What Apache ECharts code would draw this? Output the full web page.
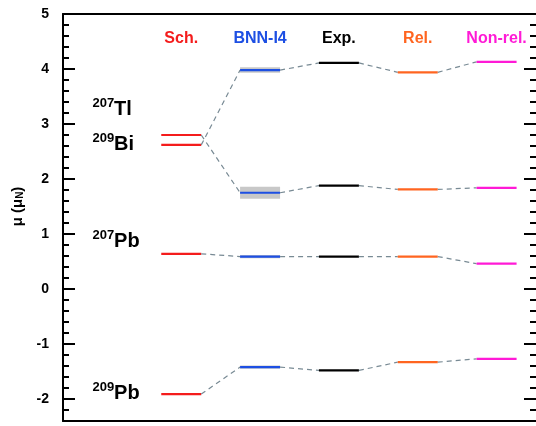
<!DOCTYPE html>
<html>
<head>
<meta charset="utf-8">
<script src="https://cdn.jsdelivr.net/npm/echarts@6/dist/echarts.min.js"></script>
<style>
  html, body { margin: 0; padding: 0; background: #fff; }
  #chart { width: 536px; height: 426px; }
</style>
</head>
<body>
<div id="chart"></div>
<script>
// levels, one value per method column
const methods = ['Sch.', 'BNN-I4', 'Exp.', 'Rel.', 'Non-rel.']
const methodColors = ['#f41c1c', '#1d4fe3', '#000000', '#ff6520', '#ff1ad6']
const bi209 = [2.62, 3.98, 4.11, 3.94, 4.13]
const tl207 = [2.80, 1.75, 1.88, 1.81, 1.84]
const pb207 = [0.64, 0.59, 0.59, 0.59, 0.46]
const pb209 = [-1.91, -1.42, -1.48, -1.33, -1.27]
// BNN-I4 uncertainty (grey band), per isotope
const bnnError = [0.05, 0.11, 0.03, 0.03]
// isotope names: mass number, element, height of the label
const isoMass = ['209', '207', '207', '209']
const isoElem = ['Bi', 'Tl', 'Pb', 'Pb']
const isoLabelY = [2.65, 3.29, 0.89, -1.88]

const FONT = '"Liberation Sans", Arial, Helvetica, sans-serif'
const categories = [''].concat(methods)
const HALF = 20 // half length of a level line, px

const chart = echarts.init(document.getElementById('chart'))

function buildData(values, err) {
  return values.map((v, i) => [methods[i], v, i === 1 ? err : 0])
}

function renderLevel(params, api) {
  const i = params.dataIndex
  const p = api.coord([api.value(0), api.value(1)])
  const children = []
  const err = api.value(2)
  if (err > 0) {
    const top = api.coord([api.value(0), api.value(1) + err])
    const bot = api.coord([api.value(0), api.value(1) - err])
    children.push({
      type: 'rect',
      shape: { x: p[0] - HALF, y: top[1], width: HALF * 2, height: bot[1] - top[1] },
      style: { fill: '#c8c8c8' }
    })
  }
  if (i > 0) {
    const q = api.coord([api.value(0, i - 1), api.value(1, i - 1)])
    children.push({
      type: 'line',
      shape: { x1: q[0] + HALF, y1: q[1], x2: p[0] - HALF, y2: p[1] },
      style: { stroke: '#788a94', lineWidth: 1.2, lineDash: [5, 4] }
    })
  }
  children.push({
    type: 'line',
    shape: { x1: p[0] - HALF, y1: p[1], x2: p[0] + HALF, y2: p[1] },
    style: { stroke: methodColors[i], lineWidth: 2.2 }
  })
  return { type: 'group', children }
}

function renderIsoLabel(params, api) {
  const i = params.dataIndex
  const p = api.coord([api.value(0), api.value(1)])
  return {
    type: 'text',
    x: p[0] - 10,
    y: p[1],
    style: {
      text: '{s|' + isoMass[i] + '}{e|' + isoElem[i] + '}',
      align: 'left',
      verticalAlign: 'middle',
      rich: {
        s: { fontSize: 13, fontWeight: 'bold', fontFamily: FONT, fill: '#000', verticalAlign: 'top', lineHeight: 22 },
        e: { fontSize: 20, fontWeight: 'bold', fontFamily: FONT, fill: '#000', verticalAlign: 'bottom', lineHeight: 22 }
      }
    }
  }
}

const levelSeries = [bi209, tl207, pb207, pb209].map((vals, k) => ({
  type: 'custom',
  xAxisIndex: 0,
  yAxisIndex: 0,
  renderItem: renderLevel,
  data: buildData(vals, bnnError[k]),
  silent: true
}))

const minorAxis = {
  type: 'value',
  gridIndex: 0,
  min: -2.4,
  max: 5,
  interval: 0.2,
  axisLine: { show: true, onZero: false, lineStyle: { color: '#000', width: 2 } },
  axisTick: { show: true, inside: true, length: 6, lineStyle: { color: '#000', width: 2 } },
  axisLabel: { show: false },
  splitLine: { show: false }
}

const majorAxis = {
  type: 'value',
  gridIndex: 1,
  min: -2,
  max: 5,
  interval: 1,
  axisLine: { show: false, onZero: false },
  axisTick: { show: true, inside: true, length: 12, lineStyle: { color: '#000', width: 2 } },
  splitLine: { show: false }
}

chart.setOption({
  backgroundColor: '#fff',
  animation: false,
  grid: [
    { left: 63, right: 0, top: 14, bottom: 5 },
    { left: 63, right: 0, top: 14, bottom: 27 }
  ],
  xAxis: [
    {
      type: 'category',
      gridIndex: 0,
      position: 'bottom',
      data: categories,
      axisLine: { onZero: false, lineStyle: { color: '#000', width: 2 } },
      axisTick: { show: false },
      axisLabel: { show: false }
    },
    {
      type: 'category',
      gridIndex: 0,
      position: 'top',
      data: categories,
      axisLine: { onZero: false, lineStyle: { color: '#000', width: 2 } },
      axisTick: { show: false },
      axisLabel: {
        inside: true,
        margin: 17,
        fontSize: 16,
        fontWeight: 'bold',
        fontFamily: FONT,
        color: (val, idx) => (idx > 0 ? methodColors[idx - 1] : '#000')
      }
    },
    { type: 'value', gridIndex: 1, show: false }
  ],
  yAxis: [
    Object.assign({}, minorAxis, { position: 'left' }),
    Object.assign({}, minorAxis, {
      position: 'right',
      axisLine: { show: false, onZero: false }
    }),
    Object.assign({}, majorAxis, {
      position: 'left',
      name: '{a|μ (μ}{b|N}{a|)}',
      nameLocation: 'middle',
      nameGap: 36,
      nameTextStyle: {
        rich: {
          a: { fontSize: 15, fontWeight: 'bold', fontFamily: FONT, color: '#000' },
          b: { fontSize: 10, fontWeight: 'bold', fontFamily: FONT, color: '#000', padding: [6, 0, 0, 0] }
        }
      },
      axisLabel: { show: true, margin: 14, fontSize: 14, fontWeight: 'bold', fontFamily: FONT, color: '#000' }
    }),
    Object.assign({}, majorAxis, { position: 'right', axisLabel: { show: false } })
  ],
  series: levelSeries.concat([{
    type: 'custom',
    xAxisIndex: 0,
    yAxisIndex: 0,
    renderItem: renderIsoLabel,
    data: isoLabelY.map(y => ['', y]),
    silent: true
  }])
})
</script>
</body>
</html>
